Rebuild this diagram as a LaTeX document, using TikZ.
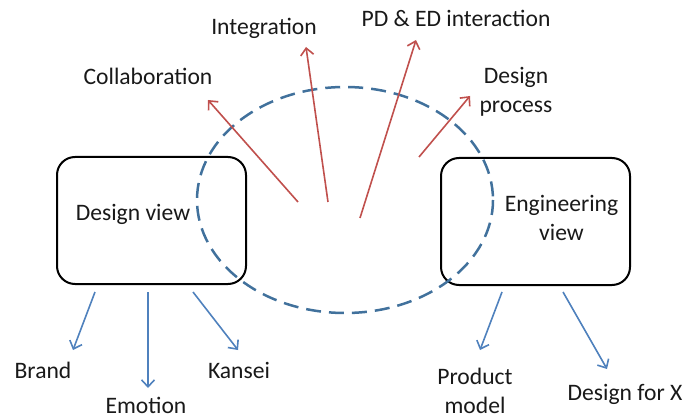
\documentclass[tikz,border=0pt]{standalone}
\usepackage{fontspec}
\setmainfont{Carlito}
\usetikzlibrary{arrows.meta}
\definecolor{redA}{RGB}{192,80,77}
\definecolor{blueA}{RGB}{79,129,189}
\definecolor{ellA}{RGB}{65,113,156}
\definecolor{txt}{RGB}{25,25,25}
\begin{document}
\begin{tikzpicture}[x=1pt,y=-1pt,
  lbl/.style={font=\fontsize{23.6}{29}\selectfont, text=txt, inner sep=0pt, anchor=base, align=center},
  viewbox/.style={draw=black, line width=2pt, rounded corners=18pt, inner sep=0pt, minimum width=189pt, minimum height=127pt},
  redarr/.style={draw=redA, line width=1.6pt, -{Straight Barb[length=7pt,width=13pt,line width=1.6pt]}},
  bluearr/.style={draw=blueA, line width=1.6pt, -{Straight Barb[length=7pt,width=13pt,line width=1.6pt]}},
  ringline/.style={draw=ellA, line width=2.5pt, dash pattern=on 15pt off 8pt}]
\useasboundingbox (0,0) rectangle (684,419);

% boxes
\node[viewbox] (dv) at (151.5,220.5) {};
\node[viewbox] (ev) at (535.5,221.5) {};

% dashed ring
\draw[ringline] (345,200) ellipse [x radius=148, y radius=113];

% labels (anchor=base is the baseline of the last line)
\node[lbl] (dvt) at (133,221) {Design view};
\node[lbl] (evt) at (561.5,241) {Engineering\\view};
\node[lbl] (col) at (148,85) {Collaboration};
\node[lbl] (int) at (264,35) {Integration};
\node[lbl] (pde) at (456,27) {PD \& ED interaction};
\node[lbl] (dpr) at (516,113) {Design\\process};
\node[lbl] (brd) at (43,378) {Brand};
\node[lbl] (emo) at (146,413) {Emotion};
\node[lbl] (kan) at (239,378) {Kansei};
\node[lbl] (pmo) at (475,413) {Product\\model};
\node[lbl] (dfx) at (625,400) {Design for X};

% red arrow end points
\coordinate (r1s) at (298,202); \coordinate (r1e) at (208,100);
\coordinate (r2s) at (328,202); \coordinate (r2e) at (306,47);
\coordinate (r3s) at (360,218); \coordinate (r3e) at (416,40);
\coordinate (r4s) at (419,157); \coordinate (r4e) at (470,96);
\draw[redarr] (r1s) -- (r1e);
\draw[redarr] (r2s) -- (r2e);
\draw[redarr] (r3s) -- (r3e);
\draw[redarr] (r4s) -- (r4e);

% blue arrow end points
\coordinate (b1s) at (95,292);  \coordinate (b1e) at (73,350);
\coordinate (b2s) at (148,292); \coordinate (b2e) at (148,388);
\coordinate (b3s) at (193,292); \coordinate (b3e) at (238,350);
\coordinate (b4s) at (502,292); \coordinate (b4e) at (480,350);
\coordinate (b5s) at (563,292); \coordinate (b5e) at (607,369);
\draw[bluearr] (b1s) -- (b1e);
\draw[bluearr] (b2s) -- (b2e);
\draw[bluearr] (b3s) -- (b3e);
\draw[bluearr] (b4s) -- (b4e);
\draw[bluearr] (b5s) -- (b5e);
\end{tikzpicture}
\end{document}
